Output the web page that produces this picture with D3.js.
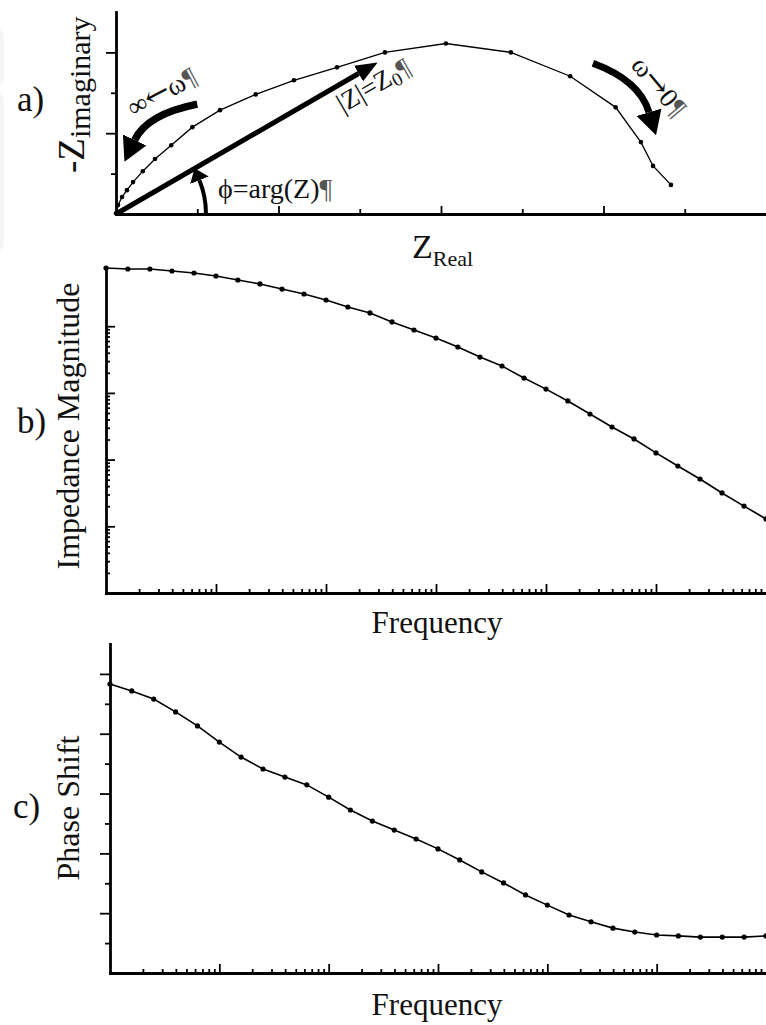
<!DOCTYPE html>
<html lang="en">
<head>
<meta charset="UTF-8">
<title>Impedance plots</title>
<script src="https://d3js.org/d3.v7.min.js"></script>
<style>
  body { margin: 0; background: #fff; }
  text { font-family: "Liberation Serif", "Times New Roman", serif; fill: #111; }
</style>
</head>
<body>
<script type="text/javascript">
// a) Nyquist plot (arbitrary units)
var zReal = [6.83, 6.61, 6.46, 6.15, 5.59, 4.86, 4.06, 3.31, 2.72, 2.19, 1.72,
             1.28, 0.94, 0.68, 0.48, 0.33, 0.21, 0.135, 0.074, 0.025, 0];
var zImag = [0.72, 1.19, 1.78, 2.64, 3.41, 4.0, 4.22, 4.0, 3.63, 3.31, 2.96,
             2.57, 2.15, 1.70, 1.36, 1.06, 0.79, 0.59, 0.42, 0.22, 0.02];

// b) and c) Bode plots, 5 points per decade
var freq = [0.1, 0.158, 0.251, 0.398, 0.631, 1, 1.58, 2.51, 3.98, 6.31,
            10, 15.8, 25.1, 39.8, 63.1, 100, 158, 251, 398, 631,
            1000, 1580, 2510, 3980, 6310, 10000, 15800, 25100, 39800, 63100, 100000];
var zMag = [74600, 72100, 72100, 67300, 62800, 56600, 49300, 43000, 36100, 30400,
            24700, 19400, 15800, 11600, 8770, 6650, 4880, 3450, 2530, 1670,
            1140, 757, 483, 308, 204, 126, 80.2, 51.2, 31.6, 20.1, 12.9];
var phase = [96.6, 94.3, 91.6, 87.3, 82.6, 77.2, 72.2, 68.2, 65.5, 62.9,
             58.8, 54.5, 50.8, 47.8, 44.8, 41.5, 37.8, 33.8, 30.1, 26.1,
             22.7, 19.4, 17.1, 15.0, 13.7, 12.7, 12.4, 12.0, 12.0, 12.0, 12.4];

var decadesX = [1, 10, 100, 1000, 10000];
var decadesY = [10, 100, 1000, 10000];

var svg = d3.select("body").append("svg")
    .attr("width", 766)
    .attr("height", 1025);

// faint grey edge on the left of the scan
svg.append("rect").attr("x", -14).attr("y", 28).attr("width", 18).attr("height", 60)
   .attr("rx", 9).attr("fill", "#f5f5f5");
svg.append("rect").attr("x", -14).attr("y", 92).attr("width", 18).attr("height", 160)
   .attr("rx", 9).attr("fill", "#f5f5f5");

var defs = svg.append("defs");
function head(id, len, half) {
  defs.append("marker").attr("id", id)
      .attr("markerUnits", "userSpaceOnUse")
      .attr("markerWidth", len + 2).attr("markerHeight", 2 * half + 2)
      .attr("viewBox", [0, -half - 1, len + 2, 2 * half + 2].join(" "))
      .attr("refX", 0).attr("refY", 0)
      .attr("orient", "auto")
      .append("path")
      .attr("d", "M0," + (-half) + "L" + len + ",0L0," + half + "Z")
      .attr("fill", "#000");
}
head("bigHead", 22, 9);
head("curveHead", 24, 13);
head("smallHead", 13, 10);

function drawAxis(gen, tx, ty, w, keepDomain) {
  var g = svg.append("g").attr("transform", "translate(" + tx + "," + ty + ")").call(gen);
  if (keepDomain) {
    g.select(".domain").attr("stroke", "#000").attr("stroke-width", w).attr("stroke-linecap", "square");
  } else {
    g.select(".domain").remove();
  }
  g.selectAll(".tick line").attr("stroke", "#000").attr("stroke-width", 1.8);
  g.selectAll(".tick text").remove();
  return g;
}

function minorLog(lo, hi) {
  var out = [];
  for (var d = lo; d < hi; d *= 10) {
    for (var m = 2; m <= 9; m++) out.push(m * d);
  }
  return out;
}

function series(xs, ys, xScale, yScale, r, w) {
  var pts = xs.map(function(v, i) { return [xScale(v), yScale(ys[i])]; });
  svg.append("path").attr("d", d3.line()(pts))
     .attr("fill", "none").attr("stroke", "#000").attr("stroke-width", w);
  svg.append("g").selectAll("circle").data(pts).enter().append("circle")
     .attr("cx", function(d) { return d[0]; })
     .attr("cy", function(d) { return d[1]; })
     .attr("r", r).attr("fill", "#000");
}

// ---------- a) ----------
var xa = d3.scaleLinear().domain([0, 8]).range([116, 766]);
var ya = d3.scaleLinear().domain([0, 5]).range([214, 12]);

drawAxis(d3.axisBottom(xa).tickValues([2, 4, 6]).tickSize(-8).tickSizeOuter(0), 0, 214, 2.8, true);
drawAxis(d3.axisBottom(xa).tickValues([1, 3, 5, 7]).tickSize(-5).tickSizeOuter(0), 0, 214, 2.8, false);
drawAxis(d3.axisLeft(ya).tickValues([2, 4]).tickSize(10).tickSizeOuter(0), 116, 0, 2.8, true);
drawAxis(d3.axisLeft(ya).tickValues([1, 3]).tickSize(5).tickSizeOuter(0), 116, 0, 2.8, false);

series(zReal, zImag, xa, ya, 2.3, 1.3);

// |Z| vector
var o = [xa(0), ya(0)], tip = [xa(3.22), ya(3.75)];
var dx = tip[0] - o[0], dy = tip[1] - o[1], L = Math.sqrt(dx * dx + dy * dy);
svg.append("line")
   .attr("x1", o[0]).attr("y1", o[1])
   .attr("x2", tip[0] - dx / L * 22).attr("y2", tip[1] - dy / L * 22)
   .attr("stroke", "#000").attr("stroke-width", 5)
   .attr("marker-end", "url(#bigHead)");

// phase angle arc
var rArc = 90, a1 = 22 * Math.PI / 180;
svg.append("path")
   .attr("d", "M" + (o[0] + rArc) + "," + o[1] + " A" + rArc + "," + rArc + " 0 0 0 " +
        (o[0] + rArc * Math.cos(a1)) + "," + (o[1] - rArc * Math.sin(a1)))
   .attr("fill", "none").attr("stroke", "#000").attr("stroke-width", 4)
   .attr("marker-end", "url(#smallHead)");

// curved arrows
svg.append("path")
   .attr("d", "M" + xa(1.0) + "," + ya(2.72) + " Q" + xa(0.38) + "," + ya(2.47) + " " + xa(0.23) + "," + ya(1.83))
   .attr("fill", "none").attr("stroke", "#000").attr("stroke-width", 7.5)
   .attr("marker-end", "url(#curveHead)");
svg.append("path")
   .attr("d", "M" + xa(5.87) + "," + ya(3.73) + " Q" + xa(6.44) + "," + ya(3.31) + " " + xa(6.56) + "," + ya(2.52))
   .attr("fill", "none").attr("stroke", "#000").attr("stroke-width", 7)
   .attr("marker-end", "url(#curveHead)");

// annotation texts
function pil(t) { t.append("tspan").attr("fill", "#555").text("¶"); }
function arrowGlyph(t, ch) {
  t.append("tspan").attr("font-family", "'DejaVu Serif', serif").attr("font-size", 30).text(ch);
}

var t1 = svg.append("text").attr("transform", "translate(378,93) rotate(-30)")
   .attr("text-anchor", "middle").attr("font-size", 27);
t1.append("tspan").text("|Z|=Z");
t1.append("tspan").attr("font-size", 19).attr("dy", 4).text("0");
t1.append("tspan").attr("dy", -4).attr("fill", "#555").text("¶");

var t2 = svg.append("text").attr("x", 218).attr("y", 198).attr("font-size", 28);
t2.append("tspan").text("ϕ=arg(Z)");
pil(t2);

var t3 = svg.append("text").attr("transform", "translate(166,100) rotate(-28)")
   .attr("text-anchor", "middle").attr("font-size", 27);
t3.append("tspan").text("∞");
arrowGlyph(t3, "←");
t3.append("tspan").text("ω");
pil(t3);

var t4 = svg.append("text").attr("transform", "translate(652,92) rotate(50)")
   .attr("text-anchor", "middle").attr("font-size", 27);
t4.append("tspan").text("ω");
arrowGlyph(t4, "→");
t4.append("tspan").text("0");
pil(t4);

// axis titles a)
var ty = svg.append("text").attr("transform", "translate(84,173) rotate(-90)")
   .attr("font-size", 37);
ty.append("tspan").text("-Z");
ty.append("tspan").attr("font-size", 30).attr("dy", 6).text("imaginary");

var tx = svg.append("text").attr("x", 412).attr("y", 258).attr("font-size", 34);
tx.append("tspan").text("Z");
tx.append("tspan").attr("font-size", 22).attr("dy", 8).text("Real");

// ---------- b) ----------
var xb = d3.scaleLog().domain([0.1, 1e5]).range([106, 766]);
var yb = d3.scaleLog().domain([1, 74600]).range([593, 268]);

drawAxis(d3.axisBottom(xb).tickValues(decadesX).tickSize(-9).tickSizeOuter(0), 0, 593, 2.8, true);
drawAxis(d3.axisBottom(xb).tickValues(minorLog(0.1, 1e5)).tickSize(-4).tickSizeOuter(0), 0, 593, 2.8, false);
drawAxis(d3.axisLeft(yb).tickValues(decadesY).tickSize(-9).tickSizeOuter(0), 106, 0, 2.8, true);
drawAxis(d3.axisLeft(yb).tickValues(minorLog(1, 1e4).filter(function(v) { return v < 74600; })).tickSize(-4).tickSizeOuter(0), 106, 0, 2.8, false);

series(freq, zMag, xb, yb, 2.6, 1.6);

svg.append("text").attr("transform", "translate(79,426) rotate(-90)")
   .attr("text-anchor", "middle").attr("font-size", 32).text("Impedance Magnitude");
svg.append("text").attr("x", 437).attr("y", 633)
   .attr("text-anchor", "middle").attr("font-size", 31).text("Frequency");

// ---------- c) ----------
var xc = d3.scaleLog().domain([0.1, 1e5]).range([110, 766]);
var yc = d3.scaleLinear().domain([0, 110]).range([973, 644]);

drawAxis(d3.axisBottom(xc).tickValues(decadesX).tickSize(-9).tickSizeOuter(0), 0, 973, 2.8, true);
drawAxis(d3.axisBottom(xc).tickValues(minorLog(0.1, 1e5)).tickSize(-4).tickSizeOuter(0), 0, 973, 2.8, false);
drawAxis(d3.axisLeft(yc).tickValues([20, 40, 60, 80, 100]).tickSize(10).tickSizeOuter(0), 110, 0, 2.8, true);
drawAxis(d3.axisLeft(yc).tickValues([10, 30, 50, 70, 90]).tickSize(5).tickSizeOuter(0), 110, 0, 2.8, false);

series(freq, phase, xc, yc, 2.6, 1.6);

svg.append("text").attr("transform", "translate(79,808) rotate(-90)")
   .attr("text-anchor", "middle").attr("font-size", 32).text("Phase Shift");
svg.append("text").attr("x", 437).attr("y", 1015)
   .attr("text-anchor", "middle").attr("font-size", 31).text("Frequency");

// panel letters
svg.append("text").attr("x", 17).attr("y", 111).attr("font-size", 35).text("a)");
svg.append("text").attr("x", 17).attr("y", 433).attr("font-size", 35).text("b)");
svg.append("text").attr("x", 13).attr("y", 818).attr("font-size", 35).text("c)");
</script>
</body>
</html>
